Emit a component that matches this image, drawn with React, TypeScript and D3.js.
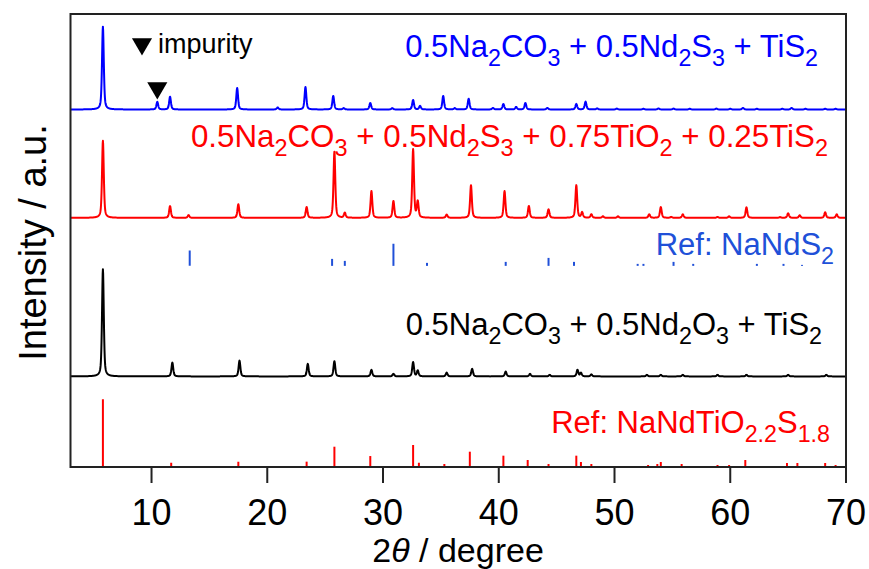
import React from 'react';
import * as d3 from 'd3';

// ---------- data ----------
const xDomain: [number, number] = [3, 70];
const yDomain: [number, number] = [0, 500];
const xTicks = [10, 20, 30, 40, 50, 60, 70];

// [2θ (deg), intensity (a.u.)]
const sampleS3Peaks: [number, number][] = [
  [5.8, 91.4], [10.5, 8.3], [11.6, 14.1], [17.4, 23.7], [20.9, 2.2], [23.3, 24.8], [25.7, 14.9],
  [26.6, 1.5], [28.9, 7.2], [30.8, 1.5], [32.6, 10.5], [33.2, 3.9], [35.2, 14.9], [36.2, 1.5],
  [37.4, 11.9], [39.5, 1.7], [40.4, 6.1], [41.5, 2.8], [42.3, 7.2], [44.2, 1.7], [46.7, 6.1],
  [47.5, 8.6], [48.5, 1.2], [50.2, 1.0], [52.5, 0.8], [53.8, 1.2], [55.1, 1.0], [56.5, 0.8],
  [58.8, 1.0], [60.0, 0.8], [61.1, 1.7], [62.3, 0.8], [64.5, 0.8], [65.3, 1.7], [66.5, 0.8],
  [68.2, 0.8], [69.1, 0.8],
];
const sampleS3Offset = 394.6;

const sampleTiO2Peaks: [number, number][] = [
  [5.8, 85], [11.6, 13], [13.2, 3], [17.5, 15], [23.4, 12], [25.8, 73], [26.7, 5.5], [29.0, 29.5],
  [30.9, 18.5], [32.6, 75.5], [33.0, 17.5], [35.5, 3.5], [37.6, 36], [40.5, 29.5], [42.6, 13],
  [44.3, 9.4], [46.7, 36], [47.2, 6], [48.0, 3.9], [49.0, 1.7], [50.3, 1.7], [53.0, 3.9],
  [54.0, 11.9], [54.9, 1], [55.9, 3.9], [58.9, 1], [59.9, 1.7], [61.4, 11.6], [64.3, 0.8],
  [65.0, 5], [66.0, 2.8], [68.2, 6.1], [69.2, 3.9],
];
const sampleTiO2Offset = 275;

const refNaNdS2Sticks: [number, number][] = [
  [13.3, 16.9], [25.6, 7.7], [26.7, 5.5], [30.9, 24.3], [33.8, 3.3], [40.6, 4.4], [44.3, 8.8],
  [46.5, 4.4], [52.0, 2.2], [52.5, 2.2], [55.1, 4.4], [56.8, 2.2], [62.3, 2.2], [64.6, 2.2], [66.2, 1.1],
];
const refNaNdS2Offset = 222;

const sampleO3Peaks: [number, number][] = [
  [5.8, 118.3], [11.8, 15.2], [17.6, 17.4], [23.5, 13.8], [25.8, 16.8], [29.0, 7.2], [30.9, 2.8],
  [32.6, 15.7], [33.0, 6.4], [35.5, 4.2], [37.7, 8.3], [40.6, 5.3], [42.7, 2.8], [44.4, 1.7],
  [46.8, 7.2], [47.1, 3.9], [48.0, 2.2], [52.8, 1.7], [54.0, 1.7], [55.9, 1.7], [58.9, 1.7],
  [61.4, 1.7], [65.0, 1.7], [68.3, 1.7],
];
const sampleO3Offset = 100;

const refNaNdTiOSSticks: [number, number][] = [
  [5.8, 74.7], [11.7, 4.7], [17.5, 5.9], [23.4, 5.9], [25.8, 22.4], [28.9, 12.1], [32.6, 24.3],
  [33.1, 4.7], [35.3, 3.3], [37.5, 16.9], [40.4, 12.5], [42.5, 7.7], [44.3, 3.3], [46.7, 12.5],
  [47.1, 5.5], [48.0, 3.3], [52.9, 2.2], [53.7, 3.3], [54.0, 5.5], [55.8, 3.3], [58.9, 2.2],
  [59.9, 2.2], [61.3, 7.7], [64.9, 4.4], [65.8, 4.4], [68.2, 4.4], [69.1, 2.2],
];
const refNaNdTiOSOffset = 0;

const impurityPeak: [number, number] = [10.5, 8.3];

// label text with _{...} subscripts
const labelS3 = '0.5Na_{2}CO_{3} + 0.5Nd_{2}S_{3} + TiS_{2}';
const labelTiO2 = '0.5Na_{2}CO_{3} + 0.5Nd_{2}S_{3} + 0.75TiO_{2} + 0.25TiS_{2}';
const labelRefS2 = 'Ref: NaNdS_{2}';
const labelO3 = '0.5Na_{2}CO_{3} + 0.5Nd_{2}O_{3} + TiS_{2}';
const labelRefTiOS = 'Ref: NaNdTiO_{2.2}S_{1.8}';

// ---------- layout ----------
const W = 869, H = 569;
const M = { left: 70.5, right: 846, top: 14, bottom: 467 };
const FONT = "'Liberation Sans', Arial, Helvetica, sans-serif";

const x = d3.scaleLinear().domain(xDomain).range([M.left, M.right]);
const y = d3.scaleLinear().domain(yDomain).range([M.bottom, M.top]);

const HW = 0.09;
function profile(peaks: [number, number][], t: number) {
  let s = 0;
  for (const [p, I] of peaks) {
    const u = (t - p) / HW;
    if (Math.abs(u) > 60) continue;
    s += I * (0.5 / (1 + u * u) + 0.5 * Math.exp(-Math.LN2 * u * u));
  }
  return s;
}

function pattern(peaks: [number, number][], offset: number) {
  const pts: [number, number][] = [];
  for (let t = xDomain[0]; t <= xDomain[1] + 1e-9; t += 0.02) {
    pts.push([t, offset + profile(peaks, t)]);
  }
  const line = d3.line<[number, number]>().x(d => x(d[0])).y(d => y(d[1]));
  return line(pts) || '';
}

function Label({ text, xr, yb, color, size }: { text: string; xr: number; yb: number; color: string; size: number }) {
  const parts: { s: string; sub: boolean }[] = [];
  const re = /_\{([^}]*)\}/g;
  let last = 0, m: RegExpExecArray | null;
  while ((m = re.exec(text))) {
    if (m.index > last) parts.push({ s: text.slice(last, m.index), sub: false });
    parts.push({ s: m[1], sub: true });
    last = m.index + m[0].length;
  }
  if (last < text.length) parts.push({ s: text.slice(last), sub: false });
  const shift = size * 0.3;
  let cur = 0;
  return (
    <text x={xr} y={yb} textAnchor="end" fill={color} fontSize={size} fontFamily={FONT} style={{ whiteSpace: 'pre' }}>
      {parts.map((p, i) => {
        const target = p.sub ? shift : 0;
        const dy = target - cur;
        cur = target;
        return (
          <tspan key={i} dy={dy} fontSize={p.sub ? size * 0.75 : size}>{p.s}</tspan>
        );
      })}
    </text>
  );
}

function Sticks({ data, offset, color }: { data: [number, number][]; offset: number; color: string }) {
  return (
    <g stroke={color} strokeWidth={2}>
      {data.map(([p, I], i) => (
        <line key={i} x1={x(p)} x2={x(p)} y1={y(offset)} y2={y(offset + I)} />
      ))}
    </g>
  );
}

export default function App() {
  const tri = d3.symbol().type(d3.symbolTriangle).size(175)() || '';
  const impX = x(impurityPeak[0]);
  const impY = y(sampleS3Offset + impurityPeak[1]) - 14;
  return (
    <svg width={W} height={H} style={{ position: 'absolute', left: 0, top: 0, background: '#fff' }}>
      <rect x={0} y={0} width={W} height={H} fill="#fff" />
      <defs>
        <clipPath id="plot">
          <rect x={M.left} y={M.top} width={M.right - M.left} height={M.bottom - M.top} />
        </clipPath>
      </defs>
      <g clipPath="url(#plot)" fill="none" strokeLinejoin="round">
        <Sticks data={refNaNdTiOSSticks} offset={refNaNdTiOSOffset} color="#ff0000" />
        <path d={pattern(sampleO3Peaks, sampleO3Offset)} stroke="#000" strokeWidth={2} />
        <Sticks data={refNaNdS2Sticks} offset={refNaNdS2Offset} color="#2050d8" />
        <path d={pattern(sampleTiO2Peaks, sampleTiO2Offset)} stroke="#ff0000" strokeWidth={2} />
        <path d={pattern(sampleS3Peaks, sampleS3Offset)} stroke="#0000ff" strokeWidth={2} />
      </g>
      {/* impurity marker */}
      <path d={tri} transform={`translate(${impX},${impY}) rotate(180)`} fill="#000" />
      <path d={tri} transform={`translate(142,44) rotate(180)`} fill="#000" />
      <text x={158} y={53} fontSize={27} fontFamily={FONT} fill="#000">impurity</text>

      {/* labels */}
      <Label text={labelS3} xr={818} yb={57} color="#0000ff" size={31} />
      <Label text={labelTiO2} xr={828} yb={147} color="#ff0000" size={31.3} />
      <Label text={labelRefS2} xr={834} yb={255} color="#2050d8" size={31} />
      <Label text={labelO3} xr={822} yb={335} color="#000" size={31} />
      <Label text={labelRefTiOS} xr={830} yb={433} color="#ff0000" size={31} />

      {/* frame */}
      <rect x={M.left} y={M.top} width={M.right - M.left} height={M.bottom - M.top} fill="none" stroke="#222" strokeWidth={2} />
      {/* x ticks */}
      <g>
        {xTicks.map(t => (
          <g key={t}>
            <line x1={x(t)} x2={x(t)} y1={M.bottom} y2={M.bottom + 16} stroke="#222" strokeWidth={2} />
            <text x={x(t)} y={525} textAnchor="middle" fontSize={36} fontFamily={FONT} fill="#000">{t}</text>
          </g>
        ))}
      </g>
      <text x={458} y={562} textAnchor="middle" fontSize={34} fontFamily={FONT} fill="#000">
        2<tspan fontStyle="italic">θ</tspan> / degree
      </text>
      <text transform={`translate(46,${(M.top + M.bottom) / 2 + 2}) rotate(-90)`} textAnchor="middle" fontSize={38} fontFamily={FONT} fill="#000">
        Intensity / a.u.
      </text>
    </svg>
  );
}
